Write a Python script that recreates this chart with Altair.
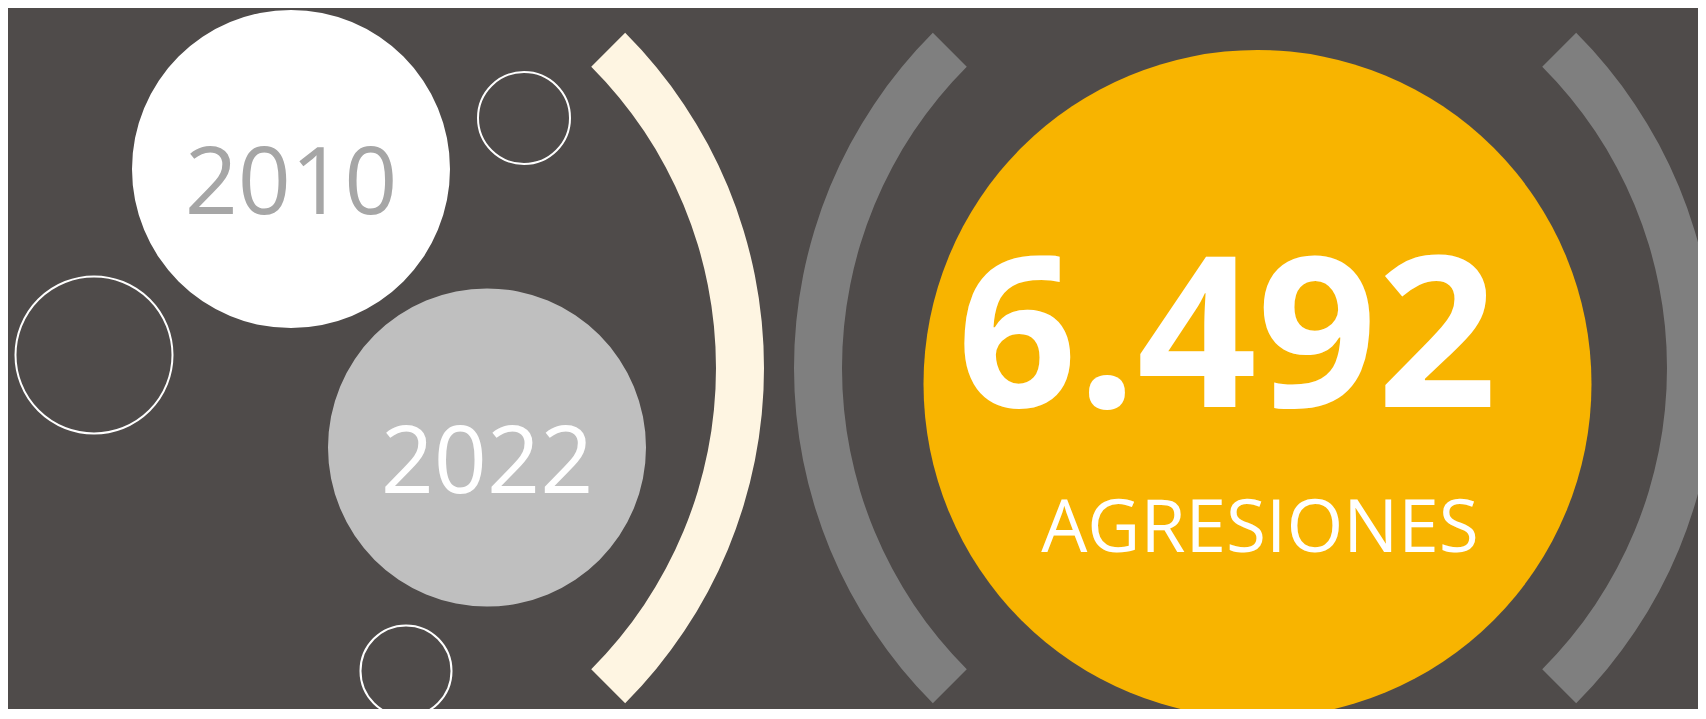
import altair as alt
import pandas as pd
import math

# ---- content ----
years = ["2010", "2022"]
year_fill = ["#FFFFFF", "#BFBFBF"]
year_text_color = ["#A6A6A6", "#FFFFFF"]
total_label = ["6.492"]
total_caption = ["AGRESIONES"]

# ---- layout (page pixels) ----
W, H, M = 1706, 719, 8
BG = "#4F4B4A"

year_cx = [291, 487]
year_cy = [169, 447.5]
year_r = [159, 159]
year_base = [214, 493]

ring_cx = [94, 524, 406]
ring_cy = [355, 118, 671]
ring_r = [78.5, 46, 45.5]

big_cx = [1257.5]
big_cy = [384]
big_r = [334]
big_color = ["#F8B400"]

arc_cx = [290, 1268, 1241]
arc_cy = [368, 368, 368]
arc_t1 = [math.pi / 4, 5 * math.pi / 4, math.pi / 4]
arc_t2 = [3 * math.pi / 4, 7 * math.pi / 4, 3 * math.pi / 4]
arc_color = ["#FEF5E2", "#7F7F7F", "#7F7F7F"]

PW, PH = W - 2 * M, H - 2 * M - 2
xs = alt.Scale(domain=[M, M + PW], nice=False, zero=False)
ys = alt.Scale(domain=[M + PH, M], nice=False, zero=False)


def X(f="x"):
    return alt.X(f"{f}:Q", scale=xs, axis=None)


def Y(f="y"):
    return alt.Y(f"{f}:Q", scale=ys, axis=None)


arcs = alt.Chart(pd.DataFrame({
    "x": arc_cx, "y": arc_cy, "t1": arc_t1, "t2": arc_t2, "c": arc_color
})).mark_arc(radius=474, radius2=426).encode(
    x=X(), y=Y(),
    theta=alt.Theta("t1:Q", scale=None, stack=None),
    theta2="t2:Q",
    color=alt.Color("c:N", scale=None),
)

big = alt.Chart(pd.DataFrame({
    "x": big_cx, "y": big_cy, "s": [(2 * r) ** 2 for r in big_r], "c": big_color
})).mark_point(shape="circle", filled=True, opacity=1, strokeWidth=0).encode(
    x=X(), y=Y(), size=alt.Size("s:Q", scale=None), color=alt.Color("c:N", scale=None)
)

year_circles = alt.Chart(pd.DataFrame({
    "x": year_cx, "y": year_cy, "s": [(2 * r) ** 2 for r in year_r], "c": year_fill
})).mark_point(shape="circle", filled=True, opacity=1, strokeWidth=0).encode(
    x=X(), y=Y(), size=alt.Size("s:Q", scale=None), color=alt.Color("c:N", scale=None)
)

rings = alt.Chart(pd.DataFrame({
    "x": ring_cx, "y": ring_cy, "s": [(2 * r) ** 2 for r in ring_r]
})).mark_point(shape="circle", filled=False, opacity=1, stroke="#FFFFFF", strokeWidth=2).encode(
    x=X(), y=Y(), size=alt.Size("s:Q", scale=None)
)

year_texts = alt.Chart(pd.DataFrame({
    "x": year_cx, "y": year_base, "t": years, "c": year_text_color
})).mark_text(font="Open Sans", fontSize=93, align="center", baseline="alphabetic").encode(
    x=X(), y=Y(), text="t:N", color=alt.Color("c:N", scale=None)
)

total_text = alt.Chart(pd.DataFrame({
    "x": [1227], "y": [407], "t": total_label
})).mark_text(font="Open Sans", fontSize=210, fontWeight="bold", align="center",
              baseline="alphabetic", color="#FFFFFF").encode(
    x=X(), y=Y(), text="t:N"
)

caption_text = alt.Chart(pd.DataFrame({
    "x": [1260], "y": [552], "t": total_caption
})).mark_text(font="Open Sans", fontSize=73, fontWeight="normal", align="center",
              baseline="alphabetic", color="#FFFFFF").encode(
    x=X(), y=Y(), text="t:N"
)

chart = alt.layer(
    arcs, big, year_circles, rings, year_texts, total_text, caption_text
).properties(
    width=PW, height=PH,
    autosize=alt.AutoSizeParams(type="none"),
    padding=0,
    background=BG,
).configure_view(stroke=None)

chart.save("out.html", embed_options={"renderer": "svg", "actions": False})
